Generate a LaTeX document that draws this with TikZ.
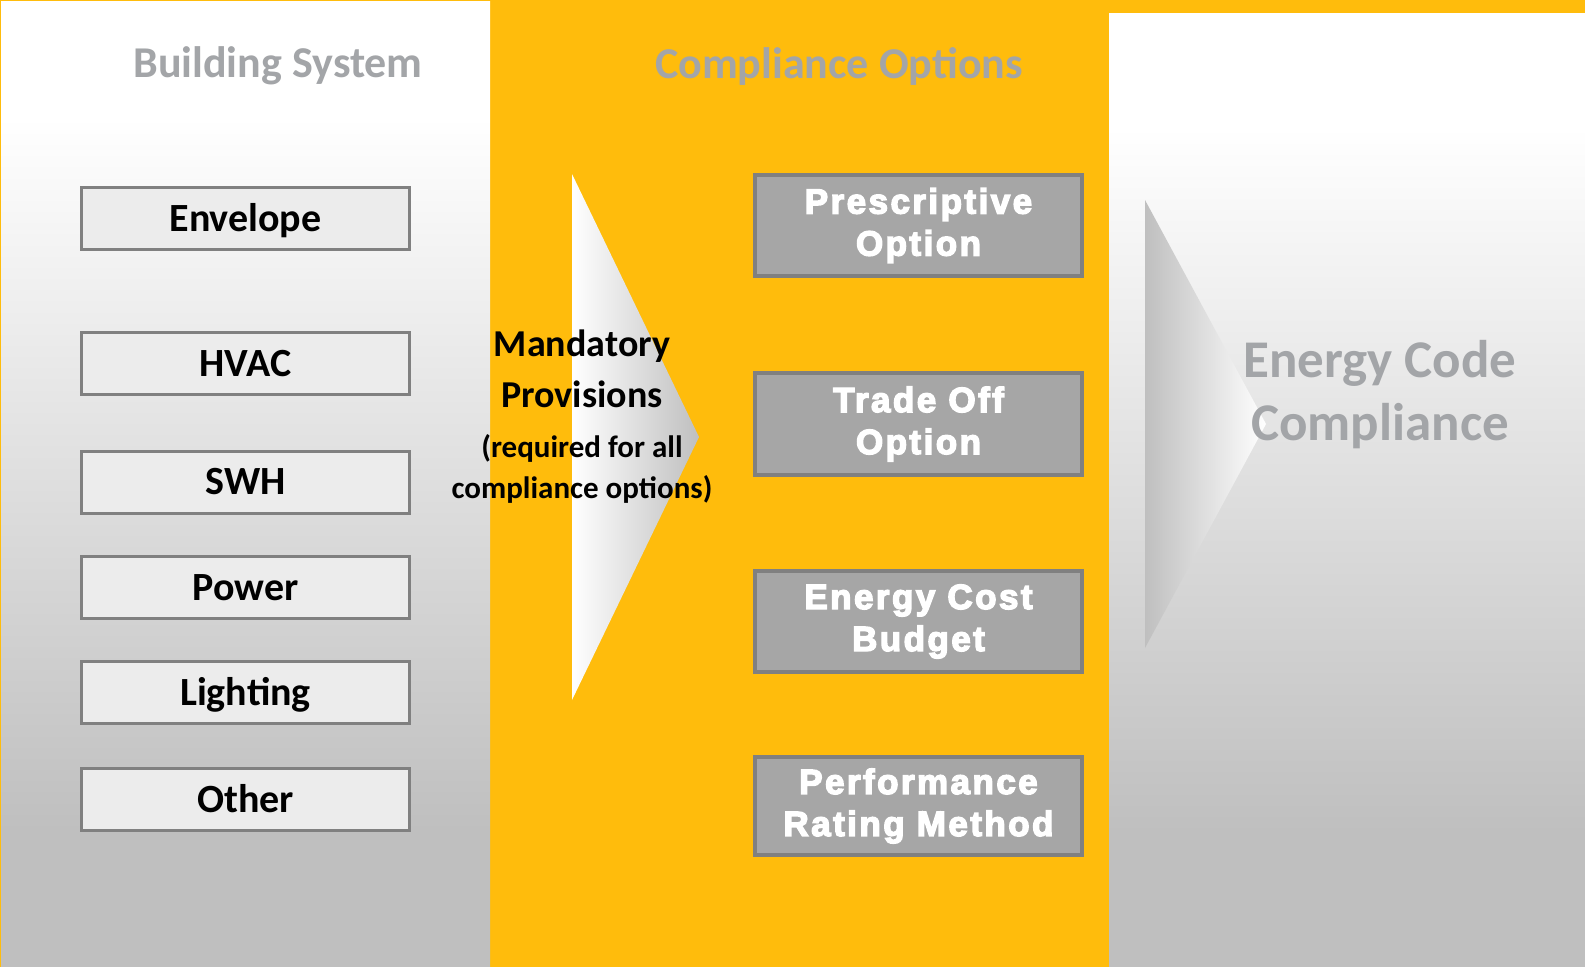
\documentclass[tikz,border=0pt]{standalone}
\usepackage{fontspec}
\setmainfont{Carlito}
\newfontfamily\optfont[LetterSpace=7,UprightFont={* Bold},FakeBold=4]{Liberation Sans}
\usetikzlibrary{positioning}

\definecolor{codeyellow}{RGB}{255,188,12}
\definecolor{titlegray}{RGB}{163,165,168}
\definecolor{panelgray}{RGB}{191,191,191}
\definecolor{boxline}{RGB}{128,128,128}
\definecolor{sysfill}{RGB}{236,236,236}
\definecolor{optfill}{RGB}{166,166,166}

% white at the top, grey towards the bottom
\pgfdeclareverticalshading{panelfade}{100bp}{color(0bp)=(panelgray); color(32bp)=(panelgray);
  color(69bp)=(white); color(100bp)=(white)}

\tikzset{
  sysbox/.style={draw=boxline,line width=3pt,fill=sysfill,minimum width=328pt,
    minimum height=62pt,inner sep=0pt,text height=25pt,text depth=0pt,
    font=\bfseries\fontsize{40}{46}\selectfont},
  optbox/.style={draw=boxline,line width=4pt,fill=optfill,minimum width=327pt,
    inner sep=0pt,align=center,text=white,font=\optfont\fontsize{35}{42}\selectfont},
  paneltitle/.style={text=titlegray,font=\bfseries\fontsize{44}{50}\selectfont}
}

\begin{document}
\begin{tikzpicture}[x=1pt,y=-1pt]
\useasboundingbox (0,0) rectangle (1585,967);
% backdrop and the two grey panels
\fill[codeyellow] (0,0) rectangle (1585,967);
\shade[shading=panelfade] (1,1) rectangle (490,966);
\shade[shading=panelfade] (1109,13) rectangle (1585,966);

% big chevrons
\shade[left color=white,right color=panelgray] (572,174) -- (699,437) -- (572,700) -- cycle;
\shade[left color=panelgray,right color=white] (1145,200) -- (1266,424) -- (1145,648) -- cycle;

% column headings
\node[paneltitle] (systitle) at (278,66) {Building System};
\node[paneltitle] (opttitle) at (839,66) {Compliance Options};

% building systems
\node[sysbox] (envelope) at (245.5,218.5) {Envelope};
\node[sysbox] (hvac) at (245.5,363.5) {HVAC};
\node[sysbox] (swh) at (245.5,482) {SWH};
\node[sysbox] (power) at (245.5,587.5) {Power};
\node[sysbox] (lighting) at (245.5,692.5) {Lighting};
\node[sysbox] (other) at (245.5,799.5) {Other};

% mandatory provisions
\node[align=center,font=\bfseries\fontsize{38}{51}\selectfont] (mandatory) at (582,369) {Mandatory\\Provisions};
\node[align=center,font=\bfseries\fontsize{31}{41}\selectfont,below=19pt of mandatory] (required)
  {(required for all\\compliance options)};

% compliance paths
\node[optbox,minimum height=101pt] (prescriptive) at (918.5,225.5) {Prescriptive\\Option};
\node[optbox,minimum height=102pt] (tradeoff) at (918.5,424) {Trade Off\\Option};
\node[optbox,minimum height=101pt] (ecb) at (918.5,621.5) {Energy Cost\\Budget};
\node[optbox,minimum height=98pt] (prm) at (918.5,806) {Performance\\Rating Method};

% result
\node[text=titlegray,align=center,font=\bfseries\fontsize{53}{63}\selectfont] (compliance) at (1380,395)
  {Energy Code\\Compliance};
\end{tikzpicture}
\end{document}
